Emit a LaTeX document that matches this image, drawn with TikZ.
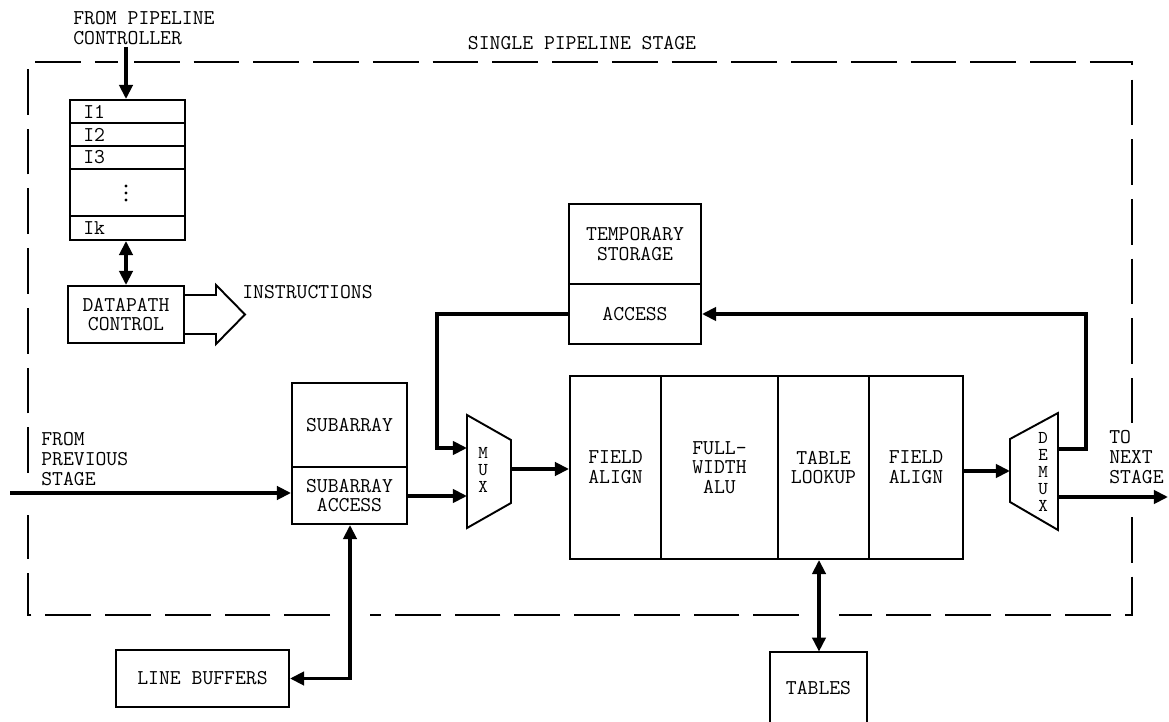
\documentclass[tikz,border=0pt]{standalone}
\usetikzlibrary{arrows.meta,fit}
\begin{document}
\begin{tikzpicture}[x=0.02cm,y=-0.02cm,
  font={\ttfamily\fontsize{12}{11.2}\selectfont},
  box/.style={draw,line width=1.1pt,inner sep=0pt,align=center},
  lbl/.style={inner sep=0pt,align=left,anchor=west},
  arr/.style={line width=2.2pt,-{Triangle[length=8pt,width=7.5pt]}},
  darr/.style={line width=2.2pt,{Triangle[length=8pt,width=7.5pt]}-{Triangle[length=8pt,width=7.5pt]}},
  thin/.style={line width=1.1pt},
  stagebox/.style={line width=1.1pt,dash pattern=on 26pt off 8pt},
  vert/.style={inner sep=0pt,font={\ttfamily\fontsize{10.3}{9.7}\selectfont}}]
\useasboundingbox (0,0) rectangle (1169,722);

% single pipeline stage outline (with gaps where signals cross)
\draw[stagebox] (134,62) -- (1132,62) -- (1132,423);
\draw[stagebox] (1132,517) -- (1132,615) -- (839,615);
\draw[stagebox] (799,615) -- (370,615);
\draw[stagebox] (330,615) -- (28,615) -- (28,515);
\draw[stagebox] (28,473) -- (28,62) -- (118,62);
\node[inner sep=0pt] (stage) at (582,43) {SINGLE PIPELINE STAGE};

% instruction stack
\node[lbl] (ctltxt) at (73,28) {FROM PIPELINE\\CONTROLLER};
\node[box,fit={(70,100)(185,123)}] (i1) {};
\node[box,fit={(70,123)(185,146)}] (i2) {};
\node[box,fit={(70,146)(185,169)}] (i3) {};
\node[box,fit={(70,169)(185,216)}] (idots) {};
\node[box,fit={(70,216)(185,240)}] (ik) {};
\node[lbl] at (83,111.5) {I1};
\node[lbl] at (83,134.5) {I2};
\node[lbl] at (83,157.5) {I3};
\node[lbl] at (83,228) {Ik};
\foreach \yy in {186,193,200} \fill (126,\yy) circle (1.6);

\node[box,fit={(68,286)(184,343)}] (dp) {};
\node[align=center,inner sep=0pt] at (dp.center) {DATAPATH\\CONTROL};

% hollow instructions arrow
\draw[thin,line join=miter] (dp.east |- 0,295) -- (216,295) -- (216,285) -- (245,314.5)
  -- (216,344) -- (216,334) -- (dp.east |- 0,334);
\node[lbl] (instr) at (242,292) {INSTRUCTIONS};

% temporary storage
\node[box,fit={(569,204)(701,284)}] (ts) {};
\node[align=center,inner sep=0pt] at (ts.center) {TEMPORARY\\STORAGE};
\node[box,fit={(569,284)(701,344)}] (acc) {};
\node[inner sep=0pt] at (acc.center) {ACCESS};

% subarray
\node[box,fit={(292,383)(407,467)}] (sub) {};
\node[inner sep=0pt] at (sub.center) {SUBARRAY};
\node[box,fit={(292,467)(407,524)}] (sa) {};
\node[align=center,inner sep=0pt] at (sa.center) {SUBARRAY\\ACCESS};

% previous stage
\node[lbl] (prevtxt) at (41,459) {FROM\\PREVIOUS\\STAGE};

% line buffers
\node[box,fit={(116,650)(289,707)}] (lb) {};
\node[inner sep=0pt] at (lb.center) {LINE BUFFERS};

% mux
\draw[thin,line join=miter] (467,415) -- (511,440) -- (511,503) -- (467,528) -- cycle;
\foreach \ch [count=\k] in {M,U,X} \node[vert] (mux\k) at (483,453+17*\k-17) {\ch};
\coordinate (muxin1) at (467,448);
\coordinate (muxin2) at (467,496);
\coordinate (muxout) at (511,469);

% pipeline datapath
\node[box,fit={(570,376)(661,559)}] (fa1) {};
\node[align=center,inner sep=0pt] at (fa1.center) {FIELD\\ALIGN};
\node[box,fit={(661,376)(778,559)}] (alu) {};
\node[align=center,inner sep=0pt] at (alu.center) {FULL-\\WIDTH\\ALU};
\node[box,fit={(778,376)(869,559)}] (tl) {};
\node[align=center,inner sep=0pt] at (tl.center) {TABLE\\LOOKUP};
\node[box,fit={(869,376)(963,559)}] (fa2) {};
\node[align=center,inner sep=0pt] at (fa2.center) {FIELD\\ALIGN};

% demux
\draw[thin,line join=miter] (1010,439) -- (1058,413) -- (1058,530) -- (1010,502) -- cycle;
\foreach \ch [count=\k] in {D,E,M,U,X} \node[vert] (dm\k) at (1043,438+17*\k-17) {\ch};
\coordinate (dmin) at (1010,471);
\coordinate (dmout1) at (1058,449);
\coordinate (dmout2) at (1058,497);
\coordinate (next) at (1168,497);
\node[lbl] (nexttxt) at (1109,457) {TO\\NEXT\\STAGE};

% tables (box runs off the bottom edge)
\node[inner sep=0pt,fit={(770,652)(867,724)}] (tab) {};
\draw[thin] (tab.south west) -- (tab.north west) -- (tab.north east) -- (tab.south east);
\node[inner sep=0pt] at (818.5,688) {TABLES};

% connectors
\coordinate (ctl) at (126,47);
\draw[arr] (ctl) -- (ctl |- i1.north);
\draw[darr] (dp.north |- ik.south) -- (dp.north);
\coordinate (prev) at (10,493);
\draw[arr] (prev) -- (prev -| sa.west);
\draw[arr] (sa.east |- muxin2) -- (muxin2);
\draw[arr] (muxout) -- (muxout -| fa1.west);
\draw[arr,line join=miter] (acc.west) -| (437,400) |- (muxin1);
\draw[arr] (fa2.east |- dmin) -- (dmin);
\draw[arr,line join=miter] (dmout1) -| (1086,380) |- (acc.east);
\draw[arr] (dmout2) -- (next);
\draw[darr] (tab.north -| 819,0) -- (tl.south -| 819,0);
\draw[darr,line join=miter] (sa.south -| 350,0) |- (lb.east);
\end{tikzpicture}
\end{document}
